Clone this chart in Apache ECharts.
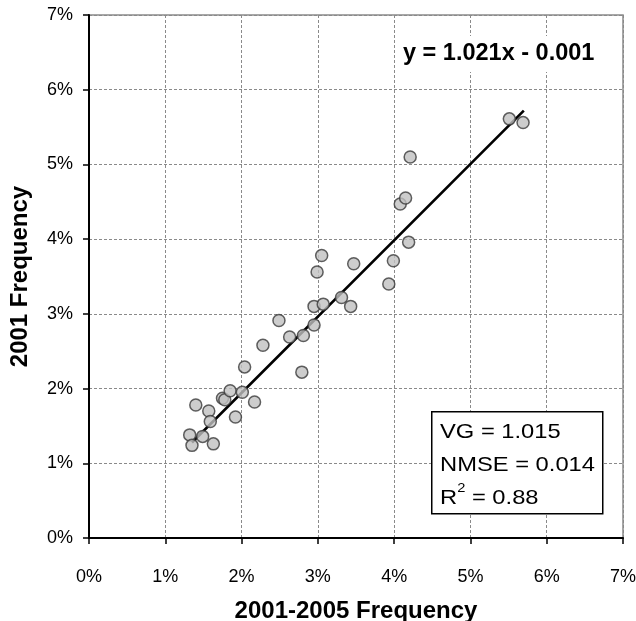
<!DOCTYPE html>
<html>
<head>
<meta charset="utf-8">
<script src="https://cdn.jsdelivr.net/npm/echarts@6/dist/echarts.min.js"></script>
<style>
  html, body { margin: 0; padding: 0; background: #fff; }
  #chart { width: 636px; height: 621px; }
</style>
</head>
<body>
<div id="chart"></div>
<script>
// Frequencies in percent: 2001-2005 average (x) vs 2001 (y)
const freq20012005 = [1.32, 1.35, 1.40, 1.49, 1.57, 1.59, 1.63, 1.75, 1.78, 1.85,
  1.92, 2.01, 2.04, 2.17, 2.28, 2.49, 2.63, 2.79, 2.81, 2.95,
  2.95, 2.99, 3.05, 3.07, 3.31, 3.43, 3.47, 3.93, 3.99, 4.08,
  4.15, 4.19, 4.21, 5.51, 5.69];
const freq2001 = [1.38, 1.24, 1.78, 1.36, 1.70, 1.56, 1.26, 1.87, 1.85, 1.97,
  1.62, 1.95, 2.29, 1.82, 2.58, 2.91, 2.69, 2.22, 2.71, 2.85,
  3.10, 3.56, 3.78, 3.13, 3.22, 3.10, 3.67, 3.40, 3.71, 4.47,
  4.55, 3.96, 5.10, 5.61, 5.56];

// Fitted trend line y = 1.021x - 0.001 (fractions), drawn in percent units
const trendSlope = 1.021;
const trendIntercept = -0.001;
const trendRange = [1.35, 5.70];

const axisTicks = [0, 1, 2, 3, 4, 5, 6, 7];
const statLines = ['VG = 1.015', 'NMSE = 0.014', 'R{sup|2} = 0.88'];
const equationText = 'y = 1.021x - 0.001';

const points = freq20012005.map((x, i) => [x, freq2001[i]]);
const trendLine = trendRange.map(x => [x, trendSlope * x + trendIntercept * 100]);

const FONT = "'Liberation Sans', Arial, sans-serif";
const chart = echarts.init(document.getElementById('chart'), null, { renderer: 'canvas' });

const axisCommon = {
  type: 'value',
  min: axisTicks[0],
  max: axisTicks[axisTicks.length - 1],
  interval: 1,
  axisLine: { show: true, onZero: false, lineStyle: { color: '#000', width: 2 } },
  axisTick: { show: true, inside: false, length: 6, lineStyle: { color: '#000', width: 1.5 } },
  splitLine: { show: true, lineStyle: { color: '#8a8a8a', width: 1, type: [3, 2] } },
  nameLocation: 'middle'
};

chart.setOption({
  animation: false,
  backgroundColor: '#fff',
  grid: {
    left: 89, top: 15, right: 13, bottom: 83,
    outerBoundsMode: 'none',
    containLabel: false,
    show: true, borderColor: '#8a8a8a', borderWidth: 1.5, backgroundColor: '#fff'
  },
  xAxis: Object.assign({}, axisCommon, {
    name: '2001-2005 Frequency',
    nameGap: 61,
    nameTextStyle: { fontFamily: FONT, fontWeight: 'bold', fontSize: 24, color: '#000' },
    axisLabel: { formatter: '{value}%', fontFamily: FONT, fontSize: 18, color: '#000', margin: 30 }
  }),
  yAxis: Object.assign({}, axisCommon, {
    name: '2001 Frequency',
    nameGap: 57,
    nameRotate: 90,
    nameTextStyle: { fontFamily: FONT, fontWeight: 'bold', fontSize: 24, color: '#000' },
    axisLabel: { formatter: '{value}%', fontFamily: FONT, fontSize: 18, color: '#000', margin: 16 }
  }),
  series: [
    {
      type: 'line',
      data: trendLine,
      symbol: 'none',
      lineStyle: { color: '#000', width: 2.6 },
      z: 3
    },
    {
      type: 'scatter',
      data: points,
      symbol: 'circle',
      symbolSize: 12,
      itemStyle: { color: '#c0c0c0', borderColor: '#3a3a3a', borderWidth: 1.5 },
      z: 4
    }
  ],
  graphic: [
    {
      type: 'text',
      left: 397, top: 36,
      z: 10,
      style: {
        text: equationText,
        fontFamily: FONT, fontWeight: 'bold', fontSize: 23.5, fill: '#000',
        backgroundColor: '#fff', padding: [6, 6]
      }
    },
    {
      type: 'rect',
      left: 431, top: 411,
      z: 10,
      shape: { x: 0, y: 0, width: 171, height: 102 },
      style: { fill: '#fff', stroke: '#000', lineWidth: 1.5 }
    },
    {
      type: 'text',
      x: 440, y: 416,
      scaleX: 1.13,
      z: 11,
      style: {
        text: statLines.join('\n'),
        fontFamily: FONT, fontSize: 21, fill: '#000', lineHeight: 33,
        rich: { sup: { fontFamily: FONT, fontSize: 13, verticalAlign: 'top', lineHeight: 33, padding: [0, 0, 12, 0] } }
      }
    }
  ]
});
</script>
</body>
</html>
